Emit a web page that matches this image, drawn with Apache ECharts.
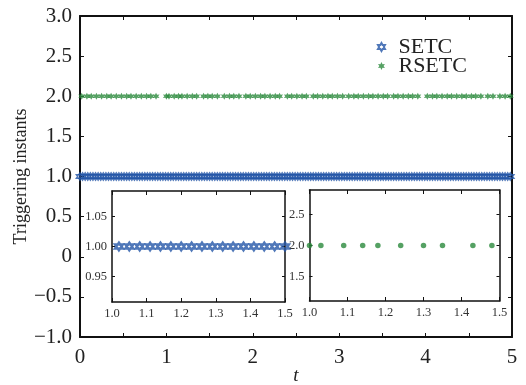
<!DOCTYPE html>
<html>
<head>
<meta charset="utf-8">
<script src="https://cdn.jsdelivr.net/npm/echarts@6/dist/echarts.min.js"></script>
<style>
  html, body { margin: 0; padding: 0; background: #fff; }
  #chart { width: 526px; height: 385px; }
</style>
</head>
<body>
<div id="chart"></div>
<script>
// triggering times
const setcTimes = [
  0.00,0.03,0.06,0.09,0.12,0.15,0.18,0.21,0.24,0.27,
  0.30,0.33,0.36,0.39,0.42,0.45,0.48,0.51,0.54,0.57,
  0.60,0.63,0.66,0.69,0.72,0.75,0.78,0.81,0.84,0.87,
  0.90,0.93,0.96,0.99,1.02,1.05,1.08,1.11,1.14,1.17,
  1.20,1.23,1.26,1.29,1.32,1.35,1.38,1.41,1.44,1.47,
  1.50,1.53,1.56,1.59,1.62,1.65,1.68,1.71,1.74,1.77,
  1.80,1.83,1.86,1.89,1.92,1.95,1.98,2.01,2.04,2.07,
  2.10,2.13,2.16,2.19,2.22,2.25,2.28,2.31,2.34,2.37,
  2.40,2.43,2.46,2.49,2.52,2.55,2.58,2.61,2.64,2.67,
  2.70,2.73,2.76,2.79,2.82,2.85,2.88,2.91,2.94,2.97,
  3.00,3.03,3.06,3.09,3.12,3.15,3.18,3.21,3.24,3.27,
  3.30,3.33,3.36,3.39,3.42,3.45,3.48,3.51,3.54,3.57,
  3.60,3.63,3.66,3.69,3.72,3.75,3.78,3.81,3.84,3.87,
  3.90,3.93,3.96,3.99,4.02,4.05,4.08,4.11,4.14,4.17,
  4.20,4.23,4.26,4.29,4.32,4.35,4.38,4.41,4.44,4.47,
  4.50,4.53,4.56,4.59,4.62,4.65,4.68,4.71,4.74,4.77,
  4.80,4.83,4.86,4.89,4.92,4.95,4.98
];
const rsetcTimes = [
  0.02,0.08,0.13,0.19,0.25,0.31,0.36,0.42,0.48,0.54,
  0.59,0.65,0.71,0.77,0.82,0.88,1.00,1.03,1.09,1.14,
  1.18,1.24,1.30,1.35,1.43,1.48,1.53,1.59,1.67,1.73,
  1.78,1.84,1.92,1.97,2.03,2.09,2.14,2.20,2.26,2.31,
  2.40,2.45,2.51,2.57,2.62,2.70,2.75,2.81,2.87,2.92,
  2.98,3.04,3.11,3.17,3.22,3.28,3.34,3.39,3.45,3.51,
  3.56,3.63,3.68,3.74,3.80,3.85,3.91,4.02,4.08,4.13,
  4.19,4.25,4.30,4.36,4.42,4.47,4.53,4.58,4.64,4.72,
  4.78,4.86,4.92,4.98
];
const setcLevel = 1;
const rsetcLevel = 2;
const inset1YTicks = [0.95, 1.00, 1.05];
const inset2YTicks = [1.5, 2.0, 2.5];

const BLUE = '#2456a8';
const GREEN = '#2a8a3c';
const FONT = '"Liberation Serif", "DejaVu Serif", serif';

function starPath(n, rOut, rIn) {
  let d = '';
  for (let i = 0; i < 2 * n; i++) {
    const r = i % 2 === 0 ? rOut : rIn;
    const a = -Math.PI / 2 + i * Math.PI / n;
    d += (i === 0 ? 'M' : 'L') + (r * Math.cos(a)).toFixed(3) + ',' + (r * Math.sin(a)).toFixed(3);
  }
  return 'path://' + d + 'Z';
}
const hexagram = starPath(6, 10, 5.77);
const asterisk = starPath(6, 10, 5.2);

const chart = echarts.init(document.getElementById('chart'));

const boxAxis = (grid, extra) => Object.assign({
  gridIndex: grid,
  axisLine: { show: true, onZero: false, lineStyle: { color: '#111', width: 1.5 } },
  axisTick: { inside: true, length: 4, lineStyle: { color: '#111', width: 1 } },
  axisLabel: { show: false },
  splitLine: { show: false }
}, extra);

const mainLabel = { fontFamily: FONT, fontSize: 21, color: '#222' };
const insetLabel = { fontFamily: FONT, fontSize: 12.5, color: '#333' };

const minus = s => s.replace('-', '\u2212');

const option = {
  animation: false,
  grid: [
    { left: 80, top: 16, width: 432, height: 321, outerBoundsMode: 'none', containLabel: false },
    { left: 112, top: 191, width: 173, height: 111, outerBoundsMode: 'none', containLabel: false },
    { left: 309.5, top: 190, width: 190, height: 111, outerBoundsMode: 'none', containLabel: false }
  ],
  legend: {
    orient: 'vertical',
    left: 372,
    top: 31,
    itemWidth: 8,
    itemHeight: 8,
    itemGap: -3,
    textStyle: { fontFamily: FONT, fontSize: 22, color: '#222', padding: [0, 0, 0, 8] },
    data: [
      { name: 'SETC', icon: hexagram },
      { name: 'RSETC', icon: asterisk }
    ]
  },
  xAxis: [
    boxAxis(0, {
      type: 'value', min: 0, max: 5, interval: 0.5, position: 'bottom',
      axisLine: { show: true, onZero: false, lineStyle: { color: '#111', width: 2 } },
      axisLabel: Object.assign({ show: true, margin: 10,
        formatter: v => Number.isInteger(v) ? String(v) : '' }, mainLabel),
      name: 't', nameLocation: 'middle', nameGap: 29, nameMoveOverlap: false,
      nameTextStyle: { fontFamily: FONT, fontSize: 19, fontStyle: 'italic', color: '#222' }
    }),
    boxAxis(0, { type: 'value', min: 0, max: 5, interval: 0.5, position: 'top',
      axisLine: { show: true, onZero: false, lineStyle: { color: '#111', width: 2 } } }),
    boxAxis(1, {
      type: 'value', min: 1, max: 1.5, interval: 0.1, position: 'bottom',
      axisLabel: Object.assign({ show: true, margin: 5, formatter: v => v.toFixed(1) }, insetLabel)
    }),
    boxAxis(1, { type: 'value', min: 1, max: 1.5, interval: 0.1, position: 'top' }),
    boxAxis(2, {
      type: 'value', min: 1, max: 1.5, interval: 0.1, position: 'bottom',
      axisLabel: Object.assign({ show: true, margin: 5, formatter: v => v.toFixed(1) }, insetLabel)
    }),
    boxAxis(2, { type: 'value', min: 1, max: 1.5, interval: 0.1, position: 'top' })
  ],
  yAxis: [
    boxAxis(0, {
      type: 'value', min: -1, max: 3, interval: 0.5, position: 'left',
      axisLine: { show: true, onZero: false, lineStyle: { color: '#111', width: 2 } },
      axisLabel: Object.assign({ show: true, margin: 8,
        formatter: v => v === 0 ? '0' : minus(v.toFixed(1)) }, mainLabel),
      name: 'Triggering instants', nameLocation: 'middle', nameGap: 50, nameRotate: 90,
      nameMoveOverlap: false,
      nameTextStyle: { fontFamily: FONT, fontSize: 18, color: '#222' }
    }),
    boxAxis(0, { type: 'value', min: -1, max: 3, interval: 0.5, position: 'right',
      axisLine: { show: true, onZero: false, lineStyle: { color: '#111', width: 2 } } }),
    boxAxis(1, {
      type: 'value', min: 0.908, max: 1.092, position: 'left',
      axisTick: { inside: true, length: 3, customValues: inset1YTicks, lineStyle: { color: '#111' } },
      axisLabel: Object.assign({ show: true, margin: 5, customValues: inset1YTicks,
        formatter: v => v.toFixed(2) }, insetLabel)
    }),
    boxAxis(1, {
      type: 'value', min: 0.908, max: 1.092, position: 'right',
      axisTick: { inside: true, length: 3, customValues: inset1YTicks, lineStyle: { color: '#111' } }
    }),
    boxAxis(2, {
      type: 'value', min: 1.1, max: 2.9, position: 'left',
      axisTick: { inside: true, length: 3, customValues: inset2YTicks, lineStyle: { color: '#111' } },
      axisLabel: Object.assign({ show: true, margin: 5, customValues: inset2YTicks,
        formatter: v => v.toFixed(1) }, insetLabel)
    }),
    boxAxis(2, {
      type: 'value', min: 1.1, max: 2.9, position: 'right',
      axisTick: { inside: true, length: 3, customValues: inset2YTicks, lineStyle: { color: '#111' } }
    })
  ],
  series: [
    {
      name: 'SETC', type: 'scatter', xAxisIndex: 0, yAxisIndex: 0,
      symbol: hexagram, symbolSize: 7,
      itemStyle: { color: 'rgba(255,255,255,0)', borderColor: BLUE, borderWidth: 1.6 },
      data: setcTimes.map(t => [t, setcLevel])
    },
    {
      name: 'RSETC', type: 'scatter', xAxisIndex: 0, yAxisIndex: 0,
      symbol: asterisk, symbolSize: 7,
      itemStyle: { color: GREEN },
      data: rsetcTimes.map(t => [t, rsetcLevel])
    },
    {
      name: 'SETC', type: 'scatter', xAxisIndex: 2, yAxisIndex: 2,
      symbol: hexagram, symbolSize: 7.5, clip: true,
      itemStyle: { color: 'rgba(255,255,255,0)', borderColor: BLUE, borderWidth: 2.6 },
      data: setcTimes.map(t => [t, setcLevel])
    },
    {
      name: 'RSETC', type: 'scatter', xAxisIndex: 4, yAxisIndex: 4,
      symbol: 'circle', symbolSize: 5.5, clip: true,
      itemStyle: { color: GREEN },
      data: rsetcTimes.map(t => [t, rsetcLevel])
    }
  ]
};

chart.setOption(option);
</script>
</body>
</html>
